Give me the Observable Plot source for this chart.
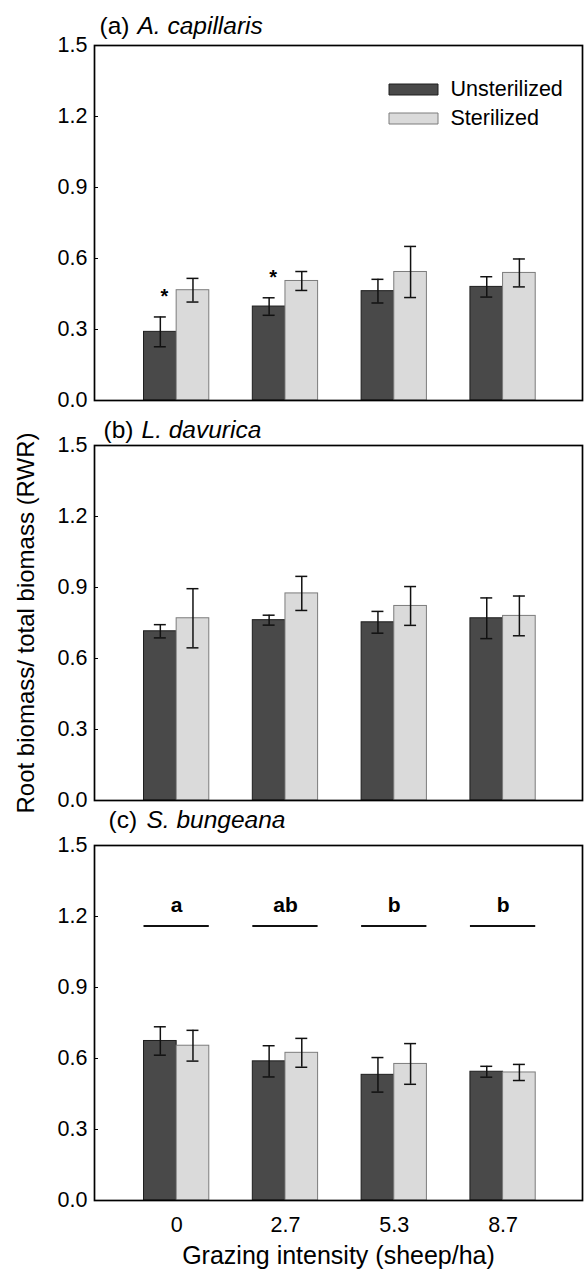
<!DOCTYPE html>
<html><head><meta charset="utf-8">
<script src="https://cdn.jsdelivr.net/npm/d3@7"></script>
<script src="https://cdn.jsdelivr.net/npm/@observablehq/plot@0.6"></script>
<style>body{margin:0;background:#fff} #chart svg{display:block}</style>
</head><body><div id="chart"></div>
<script>
// ---- data ----
const groups = ["0", "2.7", "5.3", "8.7"];
const series = ["Unsterilized", "Sterilized"];
const panelKeys = ["a", "b", "c"];
const panelTags = ["(a)", "(b)", "(c)"];
const species = ["A. capillaris", "L. davurica", "S. bungeana"];
const yTicks = [0, 0.3, 0.6, 0.9, 1.2, 1.5];

const aUnster = [0.290, 0.397, 0.462, 0.480];
const aUnsterSE = [0.063, 0.037, 0.050, 0.043];
const aSter = [0.466, 0.505, 0.543, 0.539];
const aSterSE = [0.050, 0.040, 0.108, 0.059];

const bUnster = [0.715, 0.762, 0.753, 0.770];
const bUnsterSE = [0.028, 0.021, 0.046, 0.086];
const bSter = [0.770, 0.875, 0.822, 0.780];
const bSterSE = [0.125, 0.072, 0.082, 0.084];

const cUnster = [0.674, 0.588, 0.531, 0.544];
const cUnsterSE = [0.060, 0.066, 0.073, 0.023];
const cSter = [0.654, 0.624, 0.577, 0.541];
const cSterSE = [0.065, 0.061, 0.086, 0.034];

const starsA = ["*", "*", "", ""];          // significance marks, panel (a)
const lettersC = ["a", "ab", "b", "b"];     // grouping letters, panel (c)
const letterLineY = 1.16;

// ---- build table ----
const means = [[aUnster, aSter], [bUnster, bSter], [cUnster, cSter]];
const ses = [[aUnsterSE, aSterSE], [bUnsterSE, bSterSE], [cUnsterSE, cSterSE]];
const BW = 0.3;
const rows = panelKeys.flatMap((p, k) => groups.flatMap((g, i) => series.map((s, j) => ({
  panel: p, gi: i, series: s, j,
  mean: means[k][j][i], se: ses[k][j][i],
  x1: i + (j === 0 ? -BW : 0), x2: i + (j === 0 ? 0 : BW),
  cx: i + (j - 0.5) * BW
}))));
const starRows = groups.map((g, i) => ({panel: "a", gi: i, text: starsA[i], y: aUnster[i] + aUnsterSE[i], cx: i - BW / 2})).filter(d => d.text);
const letterRows = groups.map((g, i) => ({panel: "c", gi: i, text: lettersC[i]}));

const DARK = "#494949", DARK_S = "#1e1e1e", LIGHT = "#dadada", LIGHT_S = "#7c7c7c";
const CAP = 0.055;
const rectSym = {draw(ctx) { ctx.rect(-24.5, -5.5, 49, 11); }};

const titleDx = [5, 9, 14];
const titleDy = [-11.5, -8, -17.5];

const marks = [
  Plot.rect(rows.filter(d => d.j === 0), {x1: "x1", x2: "x2", y1: 0, y2: "mean", fy: "panel", fill: DARK, stroke: DARK_S, strokeWidth: 1}),
  Plot.rect(rows.filter(d => d.j === 1), {x1: "x1", x2: "x2", y1: 0, y2: "mean", fy: "panel", fill: LIGHT, stroke: LIGHT_S, strokeWidth: 1}),
  Plot.ruleX(rows, {x: "cx", y1: d => d.mean - d.se, y2: d => d.mean + d.se, fy: "panel", stroke: "#111", strokeWidth: 1.5}),
  Plot.ruleY(rows, {y: d => d.mean + d.se, x1: d => d.cx - CAP, x2: d => d.cx + CAP, fy: "panel", stroke: "#111", strokeWidth: 1.5}),
  Plot.ruleY(rows, {y: d => d.mean - d.se, x1: d => d.cx - CAP, x2: d => d.cx + CAP, fy: "panel", stroke: "#111", strokeWidth: 1.5}),
  Plot.text(starRows, {x: "cx", y: "y", text: "text", fy: "panel", dx: 4, dy: -20, lineAnchor: "middle", fontSize: 20, fontWeight: "bold"}),
  Plot.ruleY(letterRows, {y: letterLineY, x1: d => d.gi - BW, x2: d => d.gi + BW, fy: "panel", stroke: "#111", strokeWidth: 2}),
  Plot.text(letterRows, {x: "gi", y: letterLineY, text: "text", fy: "panel", dy: -14, lineAnchor: "bottom", fontSize: 21, fontWeight: "bold"}),
  Plot.frame({stroke: "#000", strokeWidth: 1.7}),
  // legend (panel a)
  Plot.dot([{panel: "a"}], {fy: "panel", frameAnchor: "top-right", dx: -169, dy: 44, symbol: rectSym, fill: DARK, stroke: DARK_S, strokeWidth: 1}),
  Plot.dot([{panel: "a"}], {fy: "panel", frameAnchor: "top-right", dx: -169, dy: 73, symbol: rectSym, fill: LIGHT, stroke: LIGHT_S, strokeWidth: 1}),
  Plot.text([{panel: "a"}], {fy: "panel", frameAnchor: "top-right", dx: -132, dy: 44, text: () => series[0], textAnchor: "start", lineAnchor: "middle", fontSize: 21.5}),
  Plot.text([{panel: "a"}], {fy: "panel", frameAnchor: "top-right", dx: -132, dy: 73, text: () => series[1], textAnchor: "start", lineAnchor: "middle", fontSize: 21.5}),
  // panel titles
  ...panelKeys.flatMap((p, k) => [
    Plot.text([{panel: p}], {fy: "panel", frameAnchor: "top-left", dx: titleDx[k], dy: titleDy[k], text: () => panelTags[k], textAnchor: "start", lineAnchor: "bottom", fontSize: 24.5}),
    Plot.text([{panel: p}], {fy: "panel", frameAnchor: "top-left", dx: titleDx[k] + 38, dy: titleDy[k], text: () => species[k], textAnchor: "start", lineAnchor: "bottom", fontSize: 24.5, fontStyle: "italic"})
  ]),
  // axis titles
  Plot.text([{panel: "b"}], {fy: "panel", frameAnchor: "left", dx: -61, rotate: -90, text: () => "Root biomass/ total biomass (RWR)", textAnchor: "middle", lineAnchor: "bottom", fontSize: 24}),
  Plot.text([{panel: "c"}], {fy: "panel", frameAnchor: "bottom", dy: 63, text: () => "Grazing intensity (sheep/ha)", textAnchor: "middle", lineAnchor: "bottom", fontSize: 25}),
  Plot.axisY({ticks: yTicks, tickFormat: d3.format(".1f"), tickSize: -4, tickPadding: 11, fontSize: 21.5, label: null, stroke: "#000"}),
  Plot.axisX({ticks: [0, 1, 2, 3], tickFormat: i => groups[i], tickSize: 0, tickPadding: 16, fontSize: 21.5, label: null})
];

const chart = Plot.plot({
  width: 585, height: 1269,
  marginLeft: 94, marginRight: 3, marginTop: 44, marginBottom: 69,
  style: {fontFamily: "'Liberation Sans', Arial, sans-serif", fontSize: "20px", color: "#000", background: "#fff"},
  x: {domain: [-0.755, 3.73]},
  y: {domain: [0, 1.5]},
  fy: {domain: panelKeys, axis: null, paddingInner: 0.1136, paddingOuter: 0},
  marks
});
document.getElementById("chart").append(chart);
</script>
</body></html>
